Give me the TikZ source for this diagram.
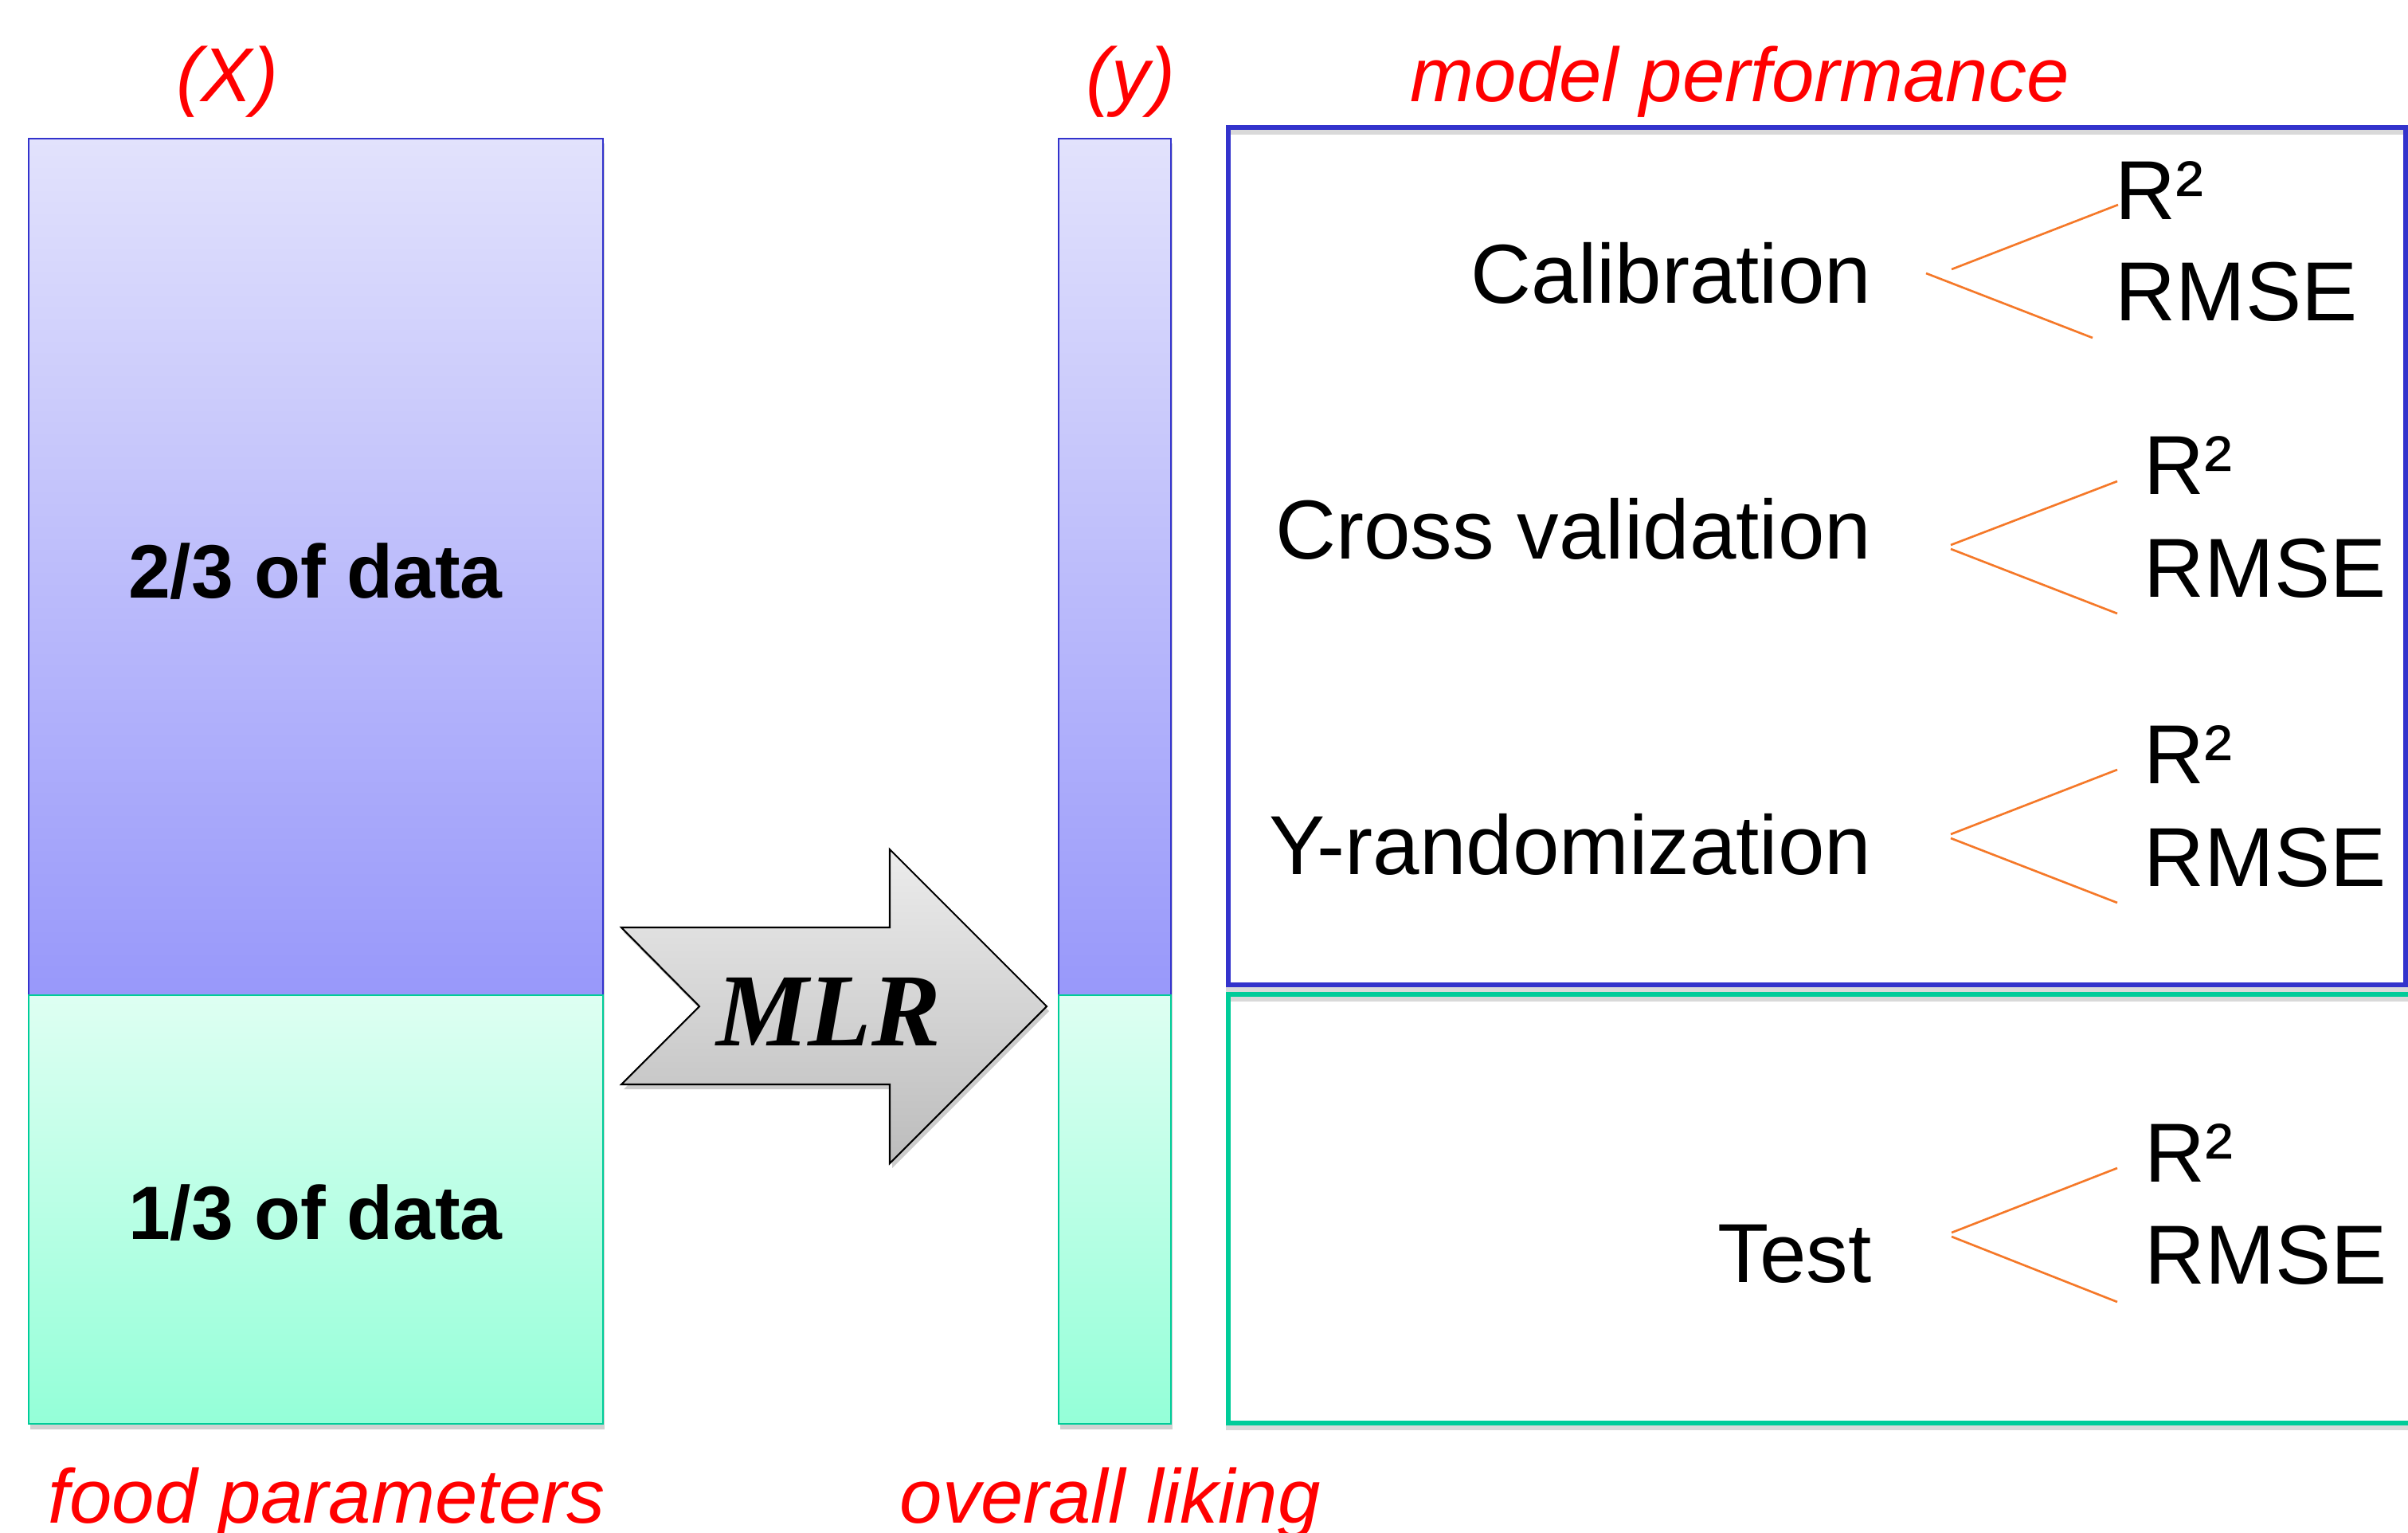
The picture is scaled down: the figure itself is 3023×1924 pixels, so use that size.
\documentclass[tikz,border=0pt]{standalone}
\usepackage{fontspec}
\setmainfont{Liberation Sans}
\newfontfamily\mlrfont{Liberation Serif}
\definecolor{bluetop}{RGB}{226,226,252}
\definecolor{bluebot}{RGB}{152,152,250}
\definecolor{greentop}{RGB}{222,255,242}
\definecolor{greenbot}{RGB}{148,255,216}
\definecolor{bedge}{RGB}{51,51,204}
\definecolor{gedge}{RGB}{0,204,153}
\definecolor{tieorange}{RGB}{245,120,40}
\definecolor{arrtop}{RGB}{236,236,236}
\definecolor{arrbot}{RGB}{188,188,188}
\tikzset{
  redlbl/.style={inner sep=0pt, text=red, font=\fontsize{27.3}{30}\selectfont\itshape},
  perf/.style={inner sep=0pt, font=\fontsize{29.9}{33}\selectfont},
  fraclbl/.style={inner sep=0pt, font=\fontsize{27}{30}\selectfont\bfseries},
  tie/.style={draw=tieorange, line width=0.75pt},
  bluefill/.style={top color=bluetop, bottom color=bluebot, draw=bedge, line width=0.6pt},
  greenfill/.style={top color=greentop, bottom color=greenbot, draw=gedge, line width=0.6pt},
  shadowbox/.style={fill=black, opacity=0.18},
  frameshadow/.style={draw=black, opacity=0.15, line width=1.7pt},
  blueframe/.style={draw=bedge, line width=1.7pt},
  greenframe/.style={draw=gedge, line width=1.7pt}
}
\begin{document}
\begin{tikzpicture}[x=0.01cm,y=-0.01cm]
\useasboundingbox (0,0) rectangle (3023,1924);
\fill[white] (0,0) rectangle (3023,1924);

% shadows
\fill[shadowbox] (38,180) rectangle (759,1794);
\fill[shadowbox] (1331,180) rectangle (1472,1794);
\draw[frameshadow] (1542,166) rectangle (3020,1242);
\draw[frameshadow] (1542,1254) rectangle (3060,1792);

% X column
\path[bluefill] (36,174) rectangle (757,1249);
\path[greenfill] (36,1249) rectangle (757,1787);
% y column
\path[bluefill] (1329,174) rectangle (1470,1249);
\path[greenfill] (1329,1249) rectangle (1470,1787);

% frames
\draw[blueframe] (1542,160) rectangle (3020,1236);
\draw[greenframe] (1542,1248) rectangle (3060,1786);

% MLR arrow
\fill[black, opacity=0.2] (783,1170) -- (1120,1170) -- (1120,1072) -- (1317,1269) -- (1120,1466) -- (1120,1367) -- (783,1367) -- (881,1269) -- cycle;
\path[top color=arrtop, bottom color=arrbot, draw=black, line width=0.6pt, line join=miter]
  (780,1164) -- (1117,1164) -- (1117,1066) -- (1314,1263) -- (1117,1460) -- (1117,1361) -- (780,1361) -- (878,1263) -- cycle;
\node[inner sep=0pt, anchor=base, font=\fontsize{37}{40}\selectfont\mlrfont\bfseries\itshape] (mlr) at (1040,1312) {MLR};

% column labels
\node[redlbl, anchor=base] (xlbl) at (285,127) {(X)};
\node[redlbl, anchor=base] (ylbl) at (1419,127) {(y)};
\node[redlbl, anchor=base west] (perflbl) at (1770,127) {model performance};
\node[redlbl, anchor=base west] (foodlbl) at (60,1911) {food parameters};
\node[redlbl, anchor=base west] (likelbl) at (1129,1911) {overall liking};

% data fractions
\node[fraclbl, anchor=base] (twothirds) at (396,750) {2/3 of data};
\node[fraclbl, anchor=base] (onethird) at (396,1555) {1/3 of data};

% performance entries
\node[perf, anchor=base east] (cal) at (2350,380) {Calibration};
\node[perf, anchor=base west] (calr) at (2655,275) {R²};
\node[perf, anchor=base west] (calm) at (2655,402) {RMSE};

\node[perf, anchor=base east] (cv) at (2350,701) {Cross validation};
\node[perf, anchor=base west] (cvr) at (2691,620) {R²};
\node[perf, anchor=base west] (cvm) at (2691,749) {RMSE};

\node[perf, anchor=base east] (yr) at (2350,1097) {Y-randomization};
\node[perf, anchor=base west] (yrr) at (2691,983) {R²};
\node[perf, anchor=base west] (yrm) at (2691,1112) {RMSE};

\node[perf, anchor=base east] (test) at (2350,1609) {Test};
\node[perf, anchor=base west] (testr) at (2692,1483) {R²};
\node[perf, anchor=base west] (testm) at (2692,1611) {RMSE};

% orange ties
\coordinate (calu1) at (2450,338); \coordinate (calu2) at (2659,257);
\coordinate (call1) at (2418,343); \coordinate (call2) at (2627,424);
\draw[tie] (calu1) -- (calu2);
\draw[tie] (call1) -- (call2);

\coordinate (cvu1) at (2449,684); \coordinate (cvu2) at (2658,604);
\coordinate (cvl1) at (2449,689); \coordinate (cvl2) at (2658,770);
\draw[tie] (cvu1) -- (cvu2);
\draw[tie] (cvl1) -- (cvl2);

\coordinate (yru1) at (2449,1047); \coordinate (yru2) at (2658,966);
\coordinate (yrl1) at (2449,1052); \coordinate (yrl2) at (2658,1133);
\draw[tie] (yru1) -- (yru2);
\draw[tie] (yrl1) -- (yrl2);

\coordinate (tu1) at (2450,1547); \coordinate (tu2) at (2658,1466);
\coordinate (tl1) at (2450,1552); \coordinate (tl2) at (2658,1634);
\draw[tie] (tu1) -- (tu2);
\draw[tie] (tl1) -- (tl2);
\end{tikzpicture}
\end{document}
